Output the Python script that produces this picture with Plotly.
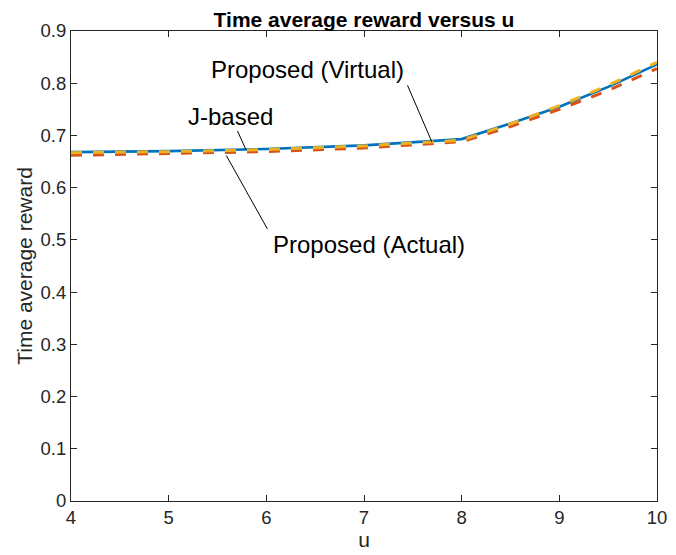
import numpy as np
import plotly.graph_objects as go

# ---- data ----
u = [4, 5, 6, 7, 8, 8.5, 9, 9.5, 10]
j_based = [0.668, 0.670, 0.674, 0.681, 0.693, 0.723, 0.755, 0.793, 0.836]
proposed_actual = [0.662, 0.665, 0.669, 0.676, 0.688, 0.717, 0.750, 0.786, 0.828]
proposed_virtual = [0.667, 0.669, 0.673, 0.680, 0.691, 0.722, 0.757, 0.796, 0.840]

x_ticks = [4, 5, 6, 7, 8, 9, 10]
x_tick_labels = ["4", "5", "6", "7", "8", "9", "10"]
y_ticks = [0, 0.1, 0.2, 0.3, 0.4, 0.5, 0.6, 0.7, 0.8, 0.9]
y_tick_labels = ["0", "0.1", "0.2", "0.3", "0.4", "0.5", "0.6", "0.7", "0.8", "0.9"]

title_text = "Time average reward versus u"
x_title = "u"
y_title = "Time average reward"

BLUE = "#0072BD"
RED = "#D95319"
YELLOW = "#EDB120"
AXC = "#262626"
FONT = "Liberation Sans, Arial, Helvetica, sans-serif"

fig = go.Figure()
fig.add_trace(go.Scatter(x=u, y=j_based, mode="lines", name="J-based",
                         line=dict(color=BLUE, width=2.6)))
fig.add_trace(go.Scatter(x=u, y=proposed_actual, mode="lines", name="Proposed (Actual)",
                         line=dict(color=RED, width=3, dash="11px,11px")))
fig.add_trace(go.Scatter(x=u, y=proposed_virtual, mode="lines", name="Proposed (Virtual)",
                         line=dict(color=YELLOW, width=3, dash="11px,11px")))

# ---- annotations: arrow tips sit on the data lines ----
labels = [
    # text, series, u at tip, text shift (px), arrow tail offset (px), tip shift
    ("Proposed (Virtual)", proposed_virtual, 7.695, (-124, 72), (-25, -58), 0),
    ("J-based", j_based, 5.79, (-15, 33), (-9, -20), 0),
    ("Proposed (Actual)", proposed_actual, 5.59, (143, -92), (42, 75), -3),
]
for text, series, ut, (sx, sy), (ax, ay), tshift in labels:
    yt = float(np.interp(ut, u, series))
    fig.add_annotation(x=ut, y=yt, xref="x", yref="y", text="", showarrow=True,
                       ax=ax, ay=ay, arrowhead=0, arrowwidth=1, arrowcolor="black",
                       standoff=0, startstandoff=0, yshift=tshift)
    fig.add_annotation(x=ut, y=yt, xref="x", yref="y", text=text, showarrow=False,
                       xshift=sx, yshift=sy,
                       font=dict(family=FONT, size=24, color="black"))

axis_common = dict(showline=True, linecolor=AXC, linewidth=1, mirror="ticks",
                   ticks="inside", ticklen=6, tickwidth=1, tickcolor=AXC,
                   showgrid=False, zeroline=False, ticklabeloverflow="allow",
                   tickfont=dict(family=FONT, size=18.5, color=AXC))

fig.update_layout(
    width=676, height=555, autosize=False,
    margin=dict(l=71, r=9, t=31, b=54),
    paper_bgcolor="white", plot_bgcolor="white",
    showlegend=False,
    font=dict(family=FONT, color=AXC),
    title=dict(text="<b>" + title_text + "</b>", x=0.5, xref="paper",
               y=1 - 20 / 555, yref="container", yanchor="middle",
               font=dict(family=FONT, size=21, color="black")),
    xaxis=dict(range=[4, 10], tickvals=x_ticks, ticktext=x_tick_labels,
               title=dict(text=x_title, font=dict(family=FONT, size=21, color=AXC), standoff=0),
               **axis_common),
    yaxis=dict(range=[0, 0.9], tickvals=y_ticks, ticktext=y_tick_labels,
               title=dict(text=y_title, font=dict(family=FONT, size=21, color=AXC), standoff=2),
               **axis_common),
)

fig.write_html("out.html", config={"displayModeBar": False},
               post_script="document.body.style.margin='0';document.body.style.overflow='hidden';")
